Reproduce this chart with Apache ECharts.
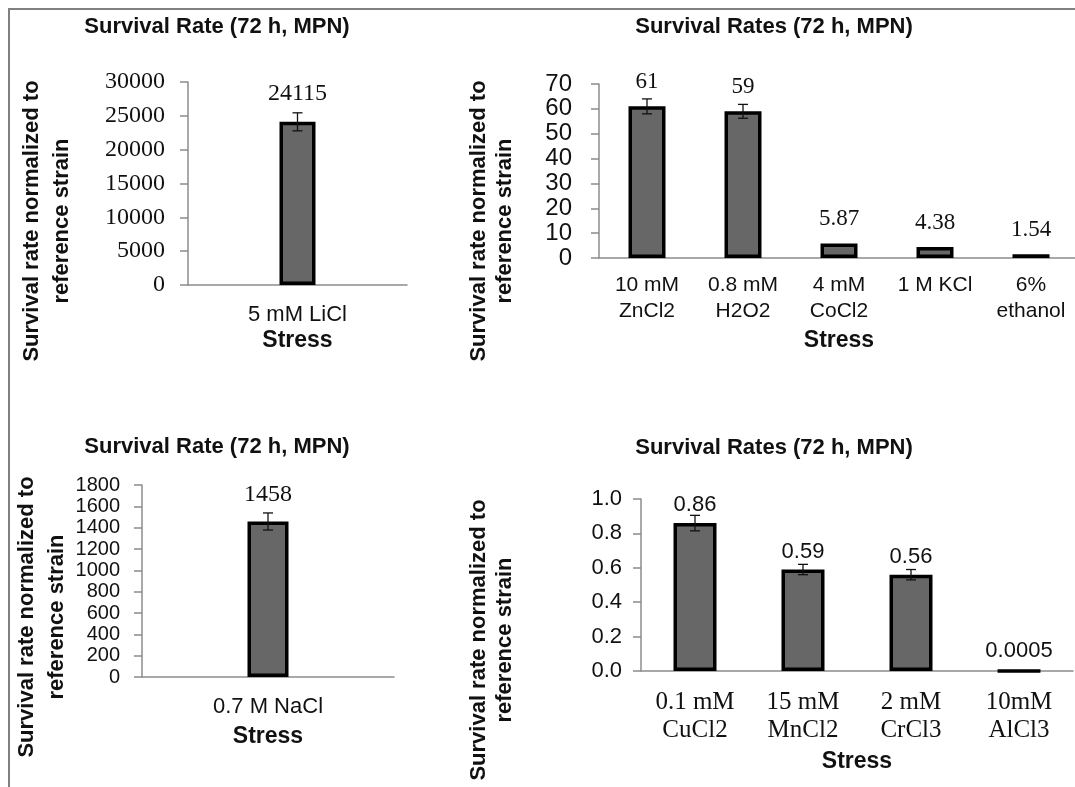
<!DOCTYPE html>
<html><head><meta charset="utf-8">
<script src="https://cdn.jsdelivr.net/npm/echarts@6/dist/echarts.min.js"></script>
<style>html,body{margin:0;padding:0;background:#fff}#c{width:1075px;height:787px}</style>
</head><body><div id="c"></div>
<script>
// ---------- DATA ----------
// Panel A (top-left)
const titleA = 'Survival Rate (72 h, MPN)';
const catsA = ['5 mM LiCl'];
const valsA = [24115];
const errA = [1330];
const yMaxA = 30000, yStepA = 5000;

// Panel B (top-right)
const titleB = 'Survival Rates (72 h, MPN)';
const catsB = ['10 mM\nZnCl2', '0.8 mM\nH2O2', '4 mM\nCoCl2', '1 M KCl', '6%\nethanol'];
const valsB = [61, 59, 5.87, 4.38, 1.54];
const errB = [3, 2.8, 0, 0, 0];
const yMaxB = 70, yStepB = 10;

// Panel C (bottom-left)
const titleC = 'Survival Rate (72 h, MPN)';
const catsC = ['0.7 M NaCl'];
const valsC = [1458];
const errC = [80];
const yMaxC = 1800, yStepC = 200;

// Panel D (bottom-right)
const titleD = 'Survival Rates (72 h, MPN)';
const catsD = ['0.1 mM\nCuCl2', '15 mM\nMnCl2', '2 mM\nCrCl3', '10mM\nAlCl3'];
const valsD = [0.86, 0.59, 0.56, 0.0005];
const errD = [0.045, 0.03, 0.03, 0];
const yMaxD = 1.0, yStepD = 0.2;

const xName = 'Stress';
const yName = 'Survival rate normalized to\nreference strain';

// ---------- STYLE / LAYOUT ----------
const SANS = '"Liberation Sans", Arial, sans-serif';
const NARROW = '"Liberation Sans Narrow", "Arial Narrow", "Liberation Sans", sans-serif';
const SERIF = '"Liberation Serif", "Times New Roman", serif';
const INK = '#111';
const AXIS = '#8c8c8c';

const panels = [
  {cats: catsA, vals: valsA, errs: errA, max: yMaxA, step: yStepA,
   grid: {left: 188, top: 82, width: 219, height: 203},
   barW: 36, yFont: SERIF, ySize: 24, yMargin: 23, yFmt: v => String(v),
   xFont: SANS, xSize: 22, xLH: 26, xMargin: 17, nameGap: 49,
   lFont: SERIF, lSize: 24, lDist: 16, cap: 5},
  {cats: catsB, vals: valsB, errs: errB, max: yMaxB, step: yStepB,
   grid: {left: 599, top: 84, width: 480, height: 174},
   barW: 37, yFont: NARROW, ySize: 24, yMargin: 27, yFmt: v => String(v),
   xFont: SANS, xSize: 21, xLH: 26, xMargin: 14, nameGap: 83,
   lFont: SERIF, lSize: 23, lDist: 13, cap: 5},
  {cats: catsC, vals: valsC, errs: errC, max: yMaxC, step: yStepC,
   grid: {left: 142, top: 485, width: 252, height: 192},
   barW: 41, yFont: SANS, ySize: 20, yMargin: 22, yFmt: v => String(v),
   xFont: SANS, xSize: 22, xLH: 26, xMargin: 17, nameGap: 60,
   lFont: SERIF, lSize: 24, lDist: 15, cap: 5},
  {cats: catsD, vals: valsD, errs: errD, max: yMaxD, step: yStepD,
   grid: {left: 641, top: 499, width: 432, height: 172},
   barW: 43, yFont: SANS, ySize: 22, yMargin: 19, yFmt: v => v.toFixed(1),
   xFont: SERIF, xSize: 25, xLH: 28, xMargin: 17, nameGap: 91,
   lFont: SANS, lSize: 22, lDist: 7, cap: 5}
];

const grids = [], xAxes = [], yAxes = [], series = [];
panels.forEach((p, i) => {
  grids.push(Object.assign({containLabel: false, outerBoundsMode: 'none'}, p.grid));
  xAxes.push({
    type: 'category', gridIndex: i, data: p.cats,
    axisLine: {show: true, lineStyle: {color: AXIS, width: 1.5}},
    axisTick: {show: false},
    axisLabel: {fontFamily: p.xFont, fontSize: p.xSize, lineHeight: p.xLH, color: INK,
                margin: p.xMargin, interval: 0},
    name: xName, nameLocation: 'middle', nameGap: p.nameGap,
    nameTextStyle: {fontFamily: SANS, fontWeight: 'bold', fontSize: 23, color: INK, verticalAlign: 'middle'}
  });
  yAxes.push({
    type: 'value', gridIndex: i, min: 0, max: p.max, interval: p.step,
    splitLine: {show: false},
    axisLine: {show: true, lineStyle: {color: AXIS, width: 1.5}},
    axisTick: {show: true, inside: false, length: 8, lineStyle: {color: AXIS, width: 1.5}},
    axisLabel: {fontFamily: p.yFont, fontSize: p.ySize, color: INK, margin: p.yMargin, formatter: p.yFmt}
  });
  series.push({
    type: 'bar', xAxisIndex: i, yAxisIndex: i, data: p.vals, barWidth: p.barW,
    itemStyle: {color: '#676767', borderColor: '#000', borderWidth: 3.5},
    label: {show: true, position: 'top', distance: p.lDist, fontFamily: p.lFont,
            fontSize: p.lSize, color: INK},
    emphasis: {disabled: true}, animation: false
  });
  const cap = p.cap;
  series.push({
    type: 'custom', xAxisIndex: i, yAxisIndex: i, z: 5, silent: true, animation: false,
    data: p.vals.map((v, k) => [k, v, p.errs[k]]),
    renderItem(params, api) {
      const k = api.value(0), v = api.value(1), e = api.value(2);
      if (!e) return null;
      const hi = api.coord([k, v + e]), lo = api.coord([k, v - e]);
      const st = {stroke: '#111', lineWidth: 1.3};
      return {type: 'group', children: [
        {type: 'line', shape: {x1: hi[0], y1: hi[1], x2: lo[0], y2: lo[1]}, style: st},
        {type: 'line', shape: {x1: hi[0] - cap, y1: hi[1], x2: hi[0] + cap, y2: hi[1]}, style: st},
        {type: 'line', shape: {x1: lo[0] - cap, y1: lo[1], x2: lo[0] + cap, y2: lo[1]}, style: st}
      ]};
    }
  });
});

function titleText(text, x, y) {
  return {type: 'text', x, y, silent: true,
    style: {text, fontFamily: SANS, fontWeight: 'bold', fontSize: 22, fill: INK,
            align: 'center', verticalAlign: 'middle'}};
}
function yNameText(x, y, lh) {
  return {type: 'text', x, y, rotation: Math.PI / 2, silent: true,
    style: {text: yName, fontFamily: SANS, fontWeight: 'bold', fontSize: 22, fill: INK,
            align: 'center', verticalAlign: 'middle', lineHeight: lh}};
}

const graphic = [
  {type: 'line', silent: true, shape: {x1: 8, y1: 9, x2: 1075, y2: 9}, style: {stroke: '#808080', lineWidth: 2}},
  {type: 'line', silent: true, shape: {x1: 9, y1: 8, x2: 9, y2: 787}, style: {stroke: '#808080', lineWidth: 2}},
  titleText(titleA, 217, 27),
  titleText(titleB, 774, 27),
  titleText(titleC, 217, 447),
  titleText(titleD, 774, 448),
  yNameText(47, 221, 30),
  yNameText(492, 221, 26),
  yNameText(42, 617, 30),
  yNameText(492, 640, 26)
];

const chart = echarts.init(document.getElementById('c'), null, {renderer: 'canvas'});
chart.setOption({
  backgroundColor: '#fff',
  animation: false,
  grid: grids, xAxis: xAxes, yAxis: yAxes, series, graphic
});
</script></body></html>
